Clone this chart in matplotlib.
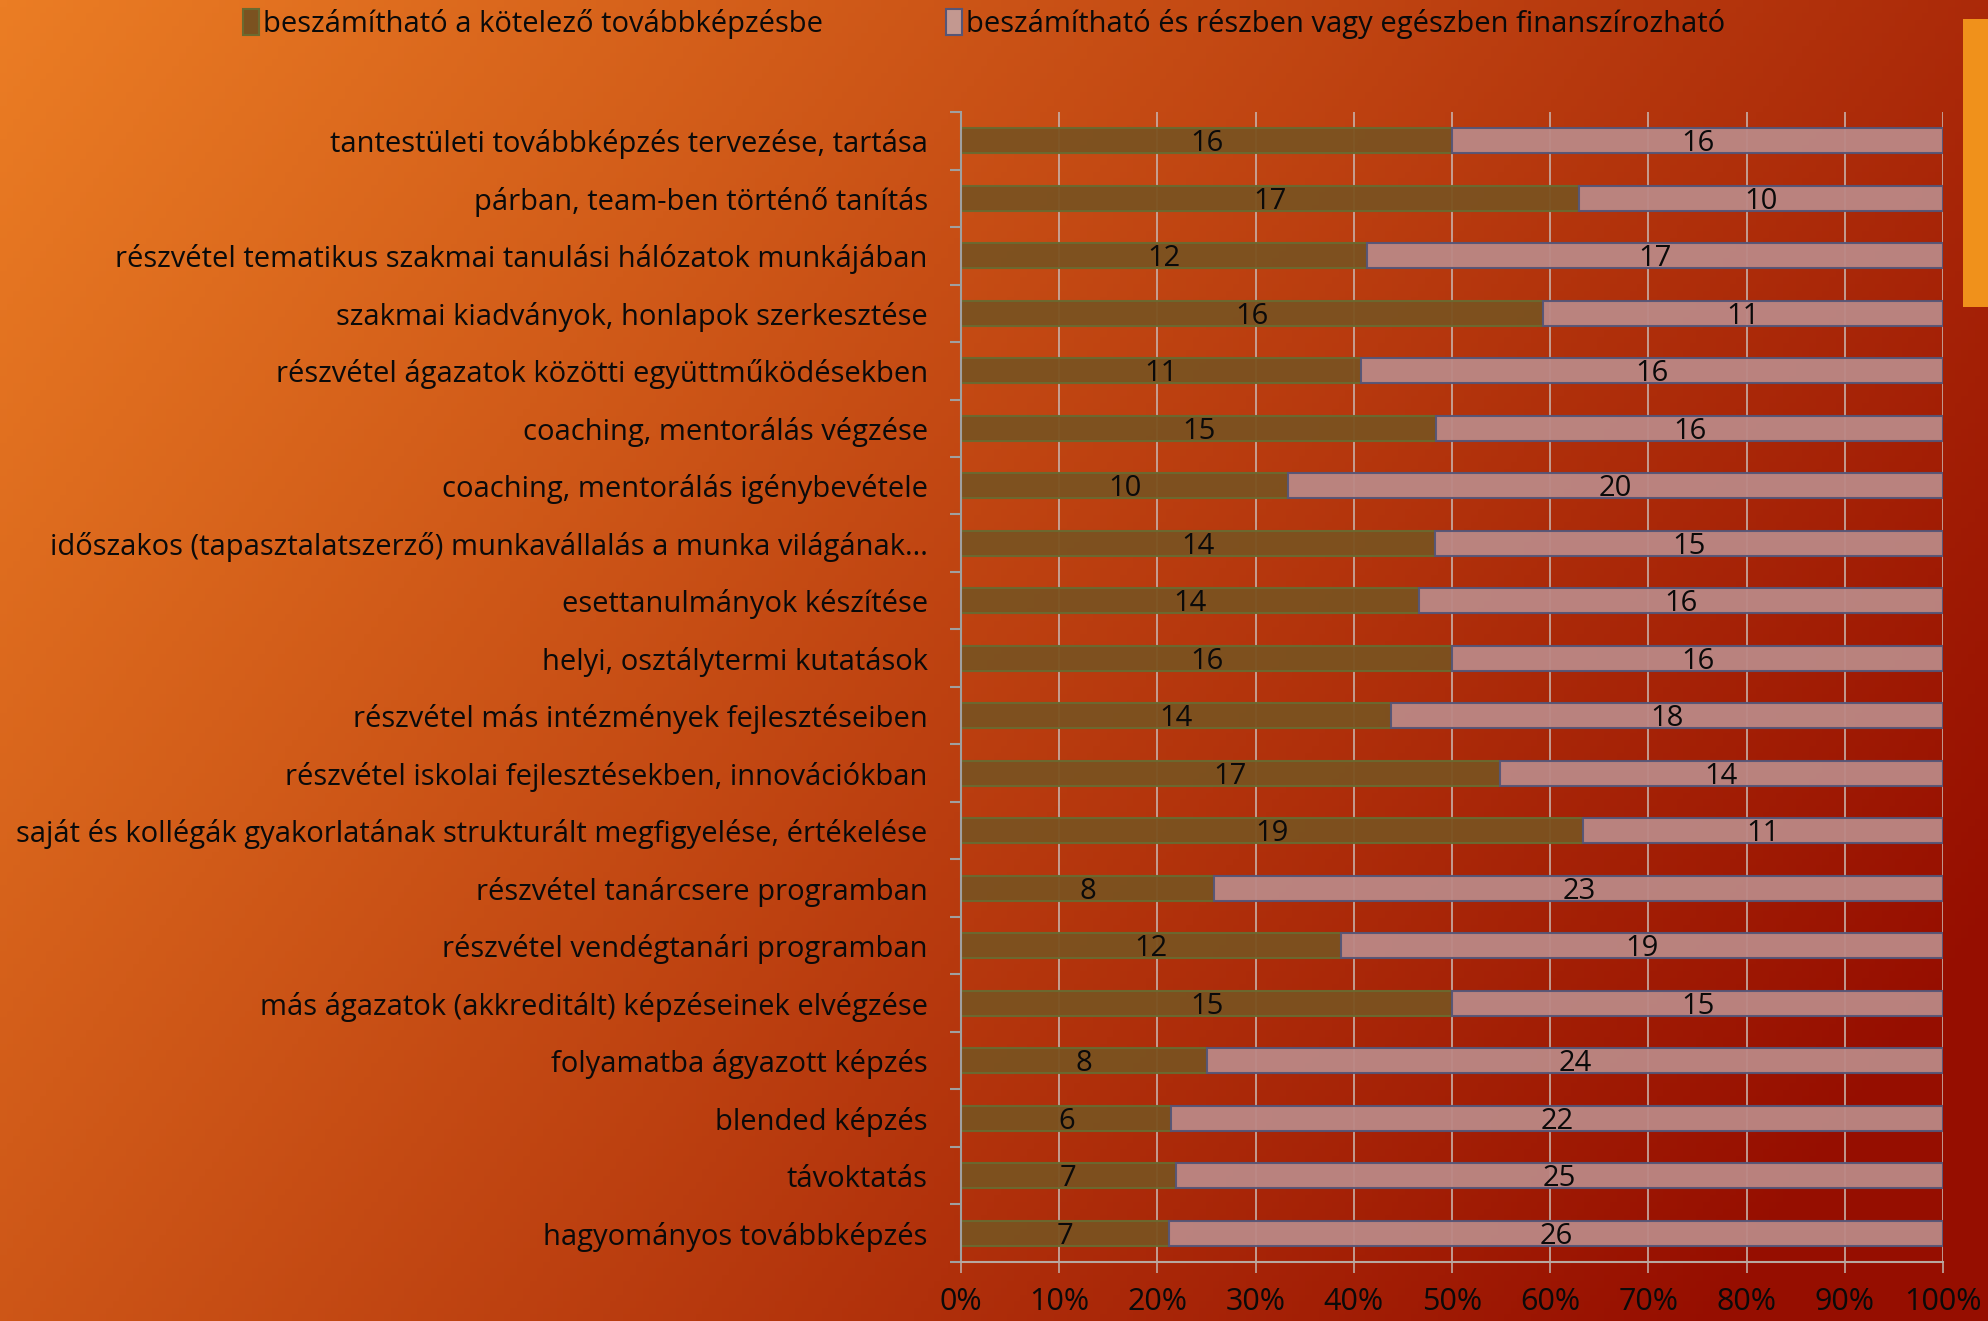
import numpy as np
import matplotlib.pyplot as plt
from matplotlib.patches import Rectangle, Patch

# categories top to bottom
categories = [
    'tantestületi továbbképzés tervezése, tartása',
    'párban, team-ben történő tanítás',
    'részvétel tematikus szakmai tanulási hálózatok munkájában',
    'szakmai kiadványok, honlapok szerkesztése',
    'részvétel ágazatok közötti együttműködésekben',
    'coaching, mentorálás végzése',
    'coaching, mentorálás igénybevétele',
    'időszakos (tapasztalatszerző) munkavállalás a munka világának...',
    'esettanulmányok készítése',
    'helyi, osztálytermi kutatások',
    'részvétel más intézmények fejlesztéseiben',
    'részvétel iskolai fejlesztésekben, innovációkban',
    'saját és kollégák gyakorlatának strukturált megfigyelése, értékelése',
    'részvétel tanárcsere programban',
    'részvétel vendégtanári programban',
    'más ágazatok (akkreditált) képzéseinek elvégzése',
    'folyamatba ágyazott képzés',
    'blended képzés',
    'távoktatás',
    'hagyományos továbbképzés',
]
kotelezo = [16, 17, 12, 16, 11, 15, 10, 14, 14, 16, 14, 17, 19, 8, 12, 15, 8, 6, 7, 7]
finansz = [16, 10, 17, 11, 16, 16, 20, 15, 16, 16, 18, 14, 11, 23, 19, 15, 24, 22, 25, 26]
series_names = ['beszámítható a kötelező továbbképzésbe',
                'beszámítható és részben vagy egészben finanszírozható']

plt.rcParams['font.family'] = ['Open Sans', 'DejaVu Sans']
FS = 21
TXT = '#0a0a0a'

fig = plt.figure(figsize=(19.88, 13.21), dpi=100)

# gradient background
bg = fig.add_axes([0, 0, 1, 1], zorder=-10)
h, w = 200, 300
yy, xx = np.mgrid[0:1:h * 1j, 0:1:w * 1j]
t = np.clip(0.75 * xx + 0.35 * yy, 0, 1)[..., None]
c0 = np.array([235, 125, 36]) / 255
c1 = np.array([150, 14, 0]) / 255
img = c0 * (1 - t) + c1 * t
bg.imshow(img, aspect='auto', extent=[0, 1, 0, 1], origin='upper')
bg.set_axis_off()

ax = fig.add_axes([0.4834, 0.0447, 0.4940, 0.8705])
ax.set_facecolor('none')

k = np.array(kotelezo, dtype=float)
f = np.array(finansz, dtype=float)
tot = k + f
pk = k / tot * 100
pf = f / tot * 100
y = np.arange(len(categories))

ax.barh(y, pk, height=0.43, color='#7B5220', edgecolor='#6A6A30', linewidth=1.5, zorder=2, alpha=0.95)
ax.barh(y, pf, left=pk, height=0.43, color='#BB8885', edgecolor='#555577', linewidth=1.5, zorder=2, alpha=0.95)

for i in range(len(y)):
    ax.text(pk[i] / 2, y[i] + 0.05, str(kotelezo[i]), ha='center', va='center', fontsize=FS, color=TXT, zorder=3)
    ax.text(pk[i] + pf[i] / 2, y[i] + 0.05, str(finansz[i]), ha='center', va='center', fontsize=FS, color=TXT, zorder=3)

ax.set_xlim(0, 100)
ax.set_ylim(len(y) - 0.5, -0.5)
ax.set_xticks(np.arange(0, 101, 10))
ax.set_xticklabels([f'{v}%' for v in range(0, 101, 10)], fontsize=22, color=TXT)
ax.set_yticks(y)
ax.set_yticklabels(categories, fontsize=FS, color=TXT)
ax.set_yticks(np.arange(-0.5, len(y), 1), minor=True)
ax.tick_params(axis='y', which='major', length=0, pad=24)
ax.tick_params(axis='y', which='minor', length=8, color='#A0A0A0', width=1.5)
ax.tick_params(axis='x', length=8, color='#C0A8A0', width=1.2, pad=10)
ax.grid(axis='x', color='#C8B0A8', linewidth=1.2, zorder=1)
for s in ['top', 'right']:
    ax.spines[s].set_visible(False)
ax.spines['left'].set_color('#A0A0A0')
ax.spines['left'].set_linewidth(1.5)
ax.spines['bottom'].set_color('#B8A8A0')
ax.spines['bottom'].set_linewidth(1.5)

handles = [Patch(facecolor='#7B5220', edgecolor='#6A6A30', linewidth=1.5),
           Patch(facecolor='#C39890', edgecolor='#555577', linewidth=1.5)]
fig.legend(handles, series_names, loc='center', bbox_to_anchor=(0.495, 0.982), ncol=2,
           frameon=False, fontsize=FS, handlelength=0.55, handleheight=1.0,
           handletextpad=0.15, columnspacing=4.2, labelcolor=TXT)

fig.patches.append(Rectangle((1963 / 1988, 1 - 307 / 1321), 30 / 1988, 288 / 1321,
                             transform=fig.transFigure, facecolor='#F0911B', edgecolor='none', zorder=5))

fig.savefig('out.png', dpi=100)
